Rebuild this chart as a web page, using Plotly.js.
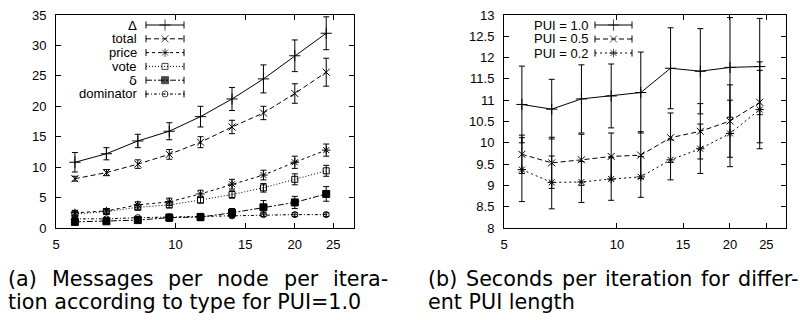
<!DOCTYPE html>
<html><head><meta charset="utf-8">
<script src="https://cdn.plot.ly/plotly-3.0.1.min.js"></script>
<style>html,body{margin:0;padding:0;background:#fff}#plot{width:807px;height:320px}</style>
</head><body><div id="plot"></div>
<script>
// ---- data ----
const nodes = [5.58, 6.7, 8.04, 9.65, 11.57, 13.89, 16.67, 20, 24];
const xTicks = [5, 10, 15, 20, 25];

// (a) messages per node per iteration
const seriesA = ['Δ', 'total', 'price', 'vote', 'δ', 'dominator'];
const msgDelta    = [10.8, 12.2, 14.3, 15.9, 18.3, 21.2, 24.5, 28.3, 32.0];
const msgDeltaErr = [1.6, 1.0, 1.1, 1.4, 1.7, 1.9, 2.3, 2.6, 2.7];
const msgTotal    = [8.1, 9.1, 10.5, 12.1, 14.1, 16.6, 18.9, 22.1, 25.6];
const msgTotalErr = [0.4, 0.5, 0.7, 0.8, 0.9, 1.1, 1.1, 1.6, 2.3];
const msgPrice    = [2.5, 2.8, 3.8, 4.3, 5.6, 7.2, 8.7, 10.8, 12.8];
const msgPriceErr = [0.4, 0.4, 0.5, 0.6, 0.6, 0.8, 0.8, 1.0, 1.0];
const msgVote     = [2.3, 2.7, 3.4, 3.8, 4.6, 5.5, 6.6, 8.0, 9.4];
const msgVoteErr  = [0.3, 0.3, 0.4, 0.5, 0.5, 0.6, 0.7, 0.9, 0.9];
const msgSmallDelta    = [1.0, 1.1, 1.3, 1.7, 1.8, 2.5, 3.4, 4.2, 5.6];
const msgSmallDeltaErr = [0.3, 0.3, 0.4, 0.6, 0.6, 0.7, 1.1, 1.0, 1.2];
const msgDominator     = [1.5, 1.5, 1.7, 1.8, 1.9, 2.0, 2.2, 2.2, 2.2];
const msgDominatorErr  = [0.2, 0.2, 0.2, 0.3, 0.3, 0.3, 0.3, 0.3, 0.3];
const yTicksA = [0, 5, 10, 15, 20, 25, 30, 35];

// (b) seconds per iteration
const seriesB = ['PUI = 1.0', 'PUI = 0.5', 'PUI = 0.2'];
const sec10    = [10.9, 10.79, 11.03, 11.1, 11.18, 11.75, 11.68, 11.77, 11.79];
const sec10Err = [0.9, 0.7, 0.8, 0.75, 0.95, 0.95, 1.0, 1.17, 1.13];
const sec05    = [9.73, 9.53, 9.6, 9.68, 9.71, 10.12, 10.27, 10.51, 10.95];
const sec05Err = [0.45, 0.6, 0.6, 0.55, 0.55, 0.58, 0.65, 0.85, 0.95];
const sec02    = [9.37, 9.07, 9.08, 9.15, 9.2, 9.6, 9.86, 10.22, 10.78];
const sec02Err = [0.75, 0.62, 0.48, 0.5, 0.48, 0.47, 0.58, 0.78, 0.92];
const yTicksB = [8, 8.5, 9, 9.5, 10, 10.5, 11, 11.5, 12, 12.5, 13];

const captionA = ['(a) Messages per node per itera-', 'tion according to type for PUI=1.0'];
const captionB = ['(b) Seconds per iteration for differ-', 'ent PUI length'];

// ---- styles ----
const W = 807, H = 320;
const boxA = {l: 56, r: 354, t: 15, b: 228};
const boxB = {l: 504, r: 786, t: 15, b: 228};
const stylesA = [
  {dash: 'solid', symbol: 'cross-thin-open', size: 8},
  {dash: '5px,3px', symbol: 'x-thin-open', size: 7},
  {dash: '3px,3px', symbol: 'asterisk-open', size: 7},
  {dash: '1px,2px', symbol: 'square-open', size: 6},
  {dash: '6px,2px,2px,2px', symbol: 'square', size: 7},
  {dash: '3px,2px,1px,2px', symbol: 'circle-open-dot', size: 6}
];
const stylesB = [
  {dash: 'solid', symbol: 'cross-thin-open', size: 8},
  {dash: '5px,3px', symbol: 'x-thin-open', size: 7},
  {dash: '2px,3px', symbol: 'asterisk-open', size: 7}
];
const dataA = [[msgDelta, msgDeltaErr], [msgTotal, msgTotalErr], [msgPrice, msgPriceErr],
               [msgVote, msgVoteErr], [msgSmallDelta, msgSmallDeltaErr], [msgDominator, msgDominatorErr]];
const dataB = [[sec10, sec10Err], [sec05, sec05Err], [sec02, sec02Err]];

function seriesTrace(y, e, st, xa, ya) {
  return {
    x: nodes, y: y, xaxis: xa, yaxis: ya, type: 'scatter', mode: 'lines+markers',
    line: {color: '#000', width: 1, dash: st.dash},
    marker: {symbol: st.symbol, size: st.size, color: '#000', line: {color: '#000', width: 1}},
    error_y: {type: 'data', array: e, visible: true, color: '#000', thickness: 1, width: 3},
    showlegend: false, hoverinfo: 'skip'
  };
}
// legend samples drawn on a hidden overlay axis (0..1 of the plot area), gnuplot style |--+--|
function legendTrace(box, row, st, x0px, x1px, xa, ya) {
  const fx = p => (p - box.l) / (box.r - box.l);
  const fy = p => (box.b - p) / (box.b - box.t);
  const yy = fy(row);
  const cap = 3.5 / (box.b - box.t);
  return {
    x: [fx(x0px), (fx(x0px) + fx(x1px)) / 2, fx(x1px)], y: [yy, yy, yy],
    xaxis: xa, yaxis: ya, type: 'scatter', mode: 'lines+markers',
    line: {color: '#000', width: 1, dash: st.dash},
    marker: {symbol: st.symbol, size: [0, st.size, 0], color: '#000', line: {color: '#000', width: 1}},
    error_y: {type: 'data', array: [cap, 0, cap], visible: true, color: '#000', thickness: 1, width: 0},
    showlegend: false, hoverinfo: 'skip'
  };
}

const traces = [];
dataA.forEach((d, i) => traces.push(seriesTrace(d[0], d[1], stylesA[i], 'x', 'y')));
dataB.forEach((d, i) => traces.push(seriesTrace(d[0], d[1], stylesB[i], 'x2', 'y2')));

const annotations = [];
const sansFont = 'Liberation Sans';
const capFamily = 'DejaVu Sans';
const rowA0 = 25, rowStepA = 13.8;
seriesA.forEach((name, i) => {
  const row = rowA0 + i * rowStepA;
  traces.push(legendTrace(boxA, row, stylesA[i], 146, 184, 'x3', 'y3'));
  const greek = (name === 'Δ' || name === 'δ');
  annotations.push({xref: 'paper', yref: 'paper', x: 139 / W, y: 1 - row / H, xanchor: 'right', yanchor: 'middle',
    text: name, showarrow: false,
    font: {family: greek ? capFamily : sansFont, size: 13, color: '#000'}});
});
const rowB0 = 25, rowStepB = 14;
seriesB.forEach((name, i) => {
  const row = rowB0 + i * rowStepB;
  traces.push(legendTrace(boxB, row, stylesB[i], 595, 632, 'x4', 'y4'));
  annotations.push({xref: 'paper', yref: 'paper', x: 591 / W, y: 1 - row / H, xanchor: 'right', yanchor: 'middle',
    text: name, showarrow: false, font: {family: sansFont, size: 13, color: '#000'}});
});

// captions: size chosen so every caption line fits its width; first lines justified
const ctx = document.createElement('canvas').getContext('2d');
function textWidth(t, size) { ctx.font = size + 'px "' + capFamily + '"'; return ctx.measureText(t).width; }
const fitA2 = 19 * 374 / textWidth(captionA[1], 19);
const fitA1 = 19 * 372 / textWidth(captionA[0], 19);
const fitB1 = 19 * 360 / textWidth(captionB[0], 19);
let capSize = Math.max(15, Math.min(22, fitA2, fitA1, fitB1));
const capFont = {family: capFamily, size: capSize, color: '#000'};
function justified(line, left, right, y) {
  const words = line.split(' ');
  const widths = words.map(w => textWidth(w, capSize));
  const total = widths.reduce((a, b) => a + b, 0);
  const gap = (right - left - total) / (words.length - 1);
  let x = left;
  words.forEach((w, k) => {
    annotations.push({xref: 'paper', yref: 'paper', x: x / W, y: 1 - y / H, xanchor: 'left', yanchor: 'middle',
      text: w, showarrow: false, font: capFont});
    x += widths[k] + gap;
  });
}
function plain(line, left, y) {
  annotations.push({xref: 'paper', yref: 'paper', x: left / W, y: 1 - y / H, xanchor: 'left', yanchor: 'middle',
    text: line, showarrow: false, font: capFont});
}
justified(captionA[0], 6, 386, 279);
plain(captionA[1], 6, 302);
justified(captionB[0], 426, 797, 279);
plain(captionB[1], 426, 302);

function xAxis(box) {
  return {type: 'log', domain: [box.l / W, box.r / W], range: [Math.log10(5), Math.log10(28.2)],
    tickmode: 'array', tickvals: xTicks, ticktext: xTicks.map(String),
    ticks: 'inside', ticklen: 5, tickcolor: '#000', tickwidth: 1,
    showline: true, linecolor: '#000', linewidth: 1, mirror: 'ticks', showgrid: false, zeroline: false,
    tickfont: {family: sansFont, size: 13, color: '#000'}, ticklabelstandoff: 4};
}
function yAxis(box, range, vals, anchor) {
  return {domain: [1 - box.b / H, 1 - box.t / H], range: range, anchor: anchor,
    tickmode: 'array', tickvals: vals, ticktext: vals.map(String),
    ticks: 'inside', ticklen: 5, tickcolor: '#000', tickwidth: 1,
    showline: true, linecolor: '#000', linewidth: 1, mirror: 'ticks', showgrid: false, zeroline: false,
    tickfont: {family: sansFont, size: 13, color: '#000'}, ticklabelstandoff: 6};
}

const layout = {
  width: W, height: H, margin: {l: 0, r: 0, t: 0, b: 0},
  paper_bgcolor: '#fff', plot_bgcolor: 'rgba(0,0,0,0)', showlegend: false,
  xaxis: Object.assign(xAxis(boxA), {anchor: 'y'}),
  yaxis: yAxis(boxA, [0, 35], yTicksA, 'x'),
  xaxis2: Object.assign(xAxis(boxB), {anchor: 'y2'}),
  yaxis2: yAxis(boxB, [8, 13], yTicksB, 'x2'),
  xaxis3: {overlaying: 'x', range: [0, 1], visible: false, anchor: 'y3'},
  yaxis3: {overlaying: 'y', range: [0, 1], visible: false, anchor: 'x3'},
  xaxis4: {overlaying: 'x2', range: [0, 1], visible: false, anchor: 'y4'},
  yaxis4: {overlaying: 'y2', range: [0, 1], visible: false, anchor: 'x4'},
  annotations: annotations
};
Plotly.newPlot('plot', traces, layout, {displayModeBar: false, staticPlot: true});
</script></body></html>
